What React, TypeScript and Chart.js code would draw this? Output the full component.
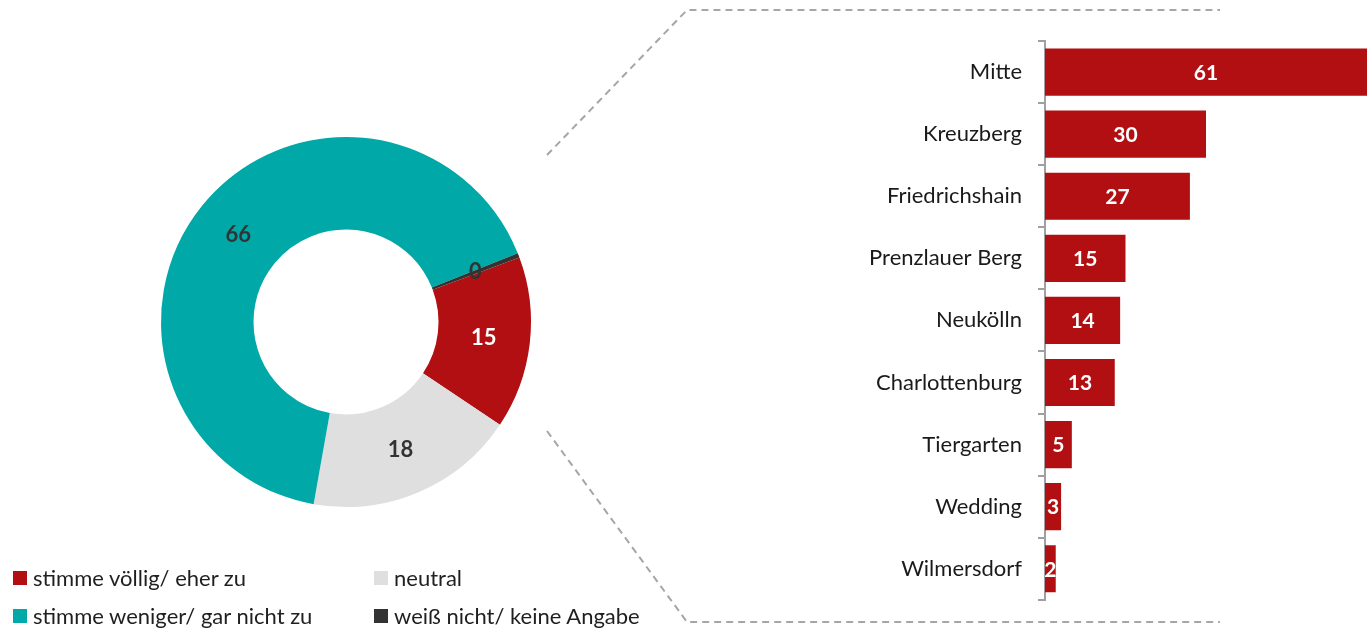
import React, { useEffect, useRef } from "react";
import { Chart, registerables } from "chart.js";

Chart.register(...registerables);

const answerLabels = [
  "stimme völlig/ eher zu",
  "neutral",
  "stimme weniger/ gar nicht zu",
  "weiß nicht/ keine Angabe",
];
const answerValues = [15, 18.4, 66, 0.4];
const answerDisplay = ["15", "18", "66", "0"];
const answerColors = ["#B20F12", "#DEDFDE", "#00A8A8", "#333333"];
const answerLabelColors = ["#FFFFFF", "#333333", "#333333", "#333333"];

const districts = [
  "Mitte",
  "Kreuzberg",
  "Friedrichshain",
  "Prenzlauer Berg",
  "Neukölln",
  "Charlottenburg",
  "Tiergarten",
  "Wedding",
  "Wilmersdorf",
];
const districtValues = [61, 30, 27, 15, 14, 13, 5, 3, 2];
const barColor = "#B20F12";

const FONT = "Lato, 'Open Sans', sans-serif";
const W = 1367;
const H = 629;

const doughnutLabels = {
  id: "doughnutLabels",
  afterDatasetsDraw(chart: any) {
    const ctx = chart.ctx;
    const meta = chart.getDatasetMeta(0);
    ctx.save();
    ctx.font = `bold 22px ${FONT}`;
    ctx.textAlign = "center";
    ctx.textBaseline = "middle";
    meta.data.forEach((arc: any, i: number) => {
      const p = arc.tooltipPosition();
      ctx.fillStyle = answerLabelColors[i];
      ctx.fillText(answerDisplay[i], p.x, p.y);
    });
    ctx.restore();
  },
};

const barLabels = {
  id: "barLabels",
  afterDatasetsDraw(chart: any) {
    const ctx = chart.ctx;
    const meta = chart.getDatasetMeta(0);
    const area = chart.chartArea;
    ctx.save();
    ctx.font = `bold 21px ${FONT}`;
    ctx.textAlign = "center";
    ctx.textBaseline = "middle";
    ctx.fillStyle = "#FFFFFF";
    meta.data.forEach((bar: any, i: number) => {
      const right = Math.min(bar.x, area.right);
      const cx = (bar.base + right) / 2;
      ctx.fillText(String(districtValues[i]), cx, bar.y + 1);
    });
    ctx.restore();
  },
  afterDraw(chart: any) {
    const ctx = chart.ctx;
    ctx.save();
    ctx.strokeStyle = "#A6A6A6";
    ctx.lineWidth = 2;
    ctx.setLineDash([7, 5]);
    ctx.beginPath();
    ctx.moveTo(547, 155);
    ctx.lineTo(687, 10);
    ctx.lineTo(1220, 10);
    ctx.moveTo(547, 431);
    ctx.lineTo(687, 622);
    ctx.lineTo(1220, 622);
    ctx.stroke();
    ctx.restore();
  },
};

export default function App() {
  const doughnutRef = useRef<HTMLCanvasElement | null>(null);
  const barRef = useRef<HTMLCanvasElement | null>(null);

  useEffect(() => {
    const d = new Chart(doughnutRef.current as HTMLCanvasElement, {
      type: "doughnut",
      data: {
        labels: answerLabels,
        datasets: [
          {
            data: answerValues,
            backgroundColor: answerColors,
            borderWidth: 0,
          },
        ],
      },
      options: {
        responsive: false,
        animation: false,
        cutout: "50%",
        rotation: 69.6,
        layout: { padding: { left: 161, top: 137, right: W - 531, bottom: H - 507 } },
        plugins: { legend: { display: false }, tooltip: { enabled: false } },
      },
      plugins: [doughnutLabels],
    });

    const b = new Chart(barRef.current as HTMLCanvasElement, {
      type: "bar",
      data: {
        labels: districts,
        datasets: [
          {
            data: districtValues,
            backgroundColor: barColor,
            borderWidth: 0,
            categoryPercentage: 0.76,
            barPercentage: 1,
          },
        ],
      },
      options: {
        indexAxis: "y",
        responsive: false,
        animation: false,
        layout: { padding: { left: 700, top: 41, bottom: H - 600, right: 0 } },
        plugins: { legend: { display: false }, tooltip: { enabled: false } },
        scales: {
          x: { display: false, min: 0, max: 60 },
          y: {
            afterFit(scale: any) {
              scale.width = 345;
            },
            border: { display: true, color: "#A0A0A0", width: 2 },
            grid: {
              drawOnChartArea: false,
              drawTicks: true,
              tickLength: 7,
              color: "#A0A0A0",
              lineWidth: 2,
              offset: true,
            },
            ticks: {
              color: "#1A1A1A",
              font: { family: FONT, size: 22 },
              padding: 16,
            },
          },
        },
      },
      plugins: [barLabels],
    });

    return () => {
      d.destroy();
      b.destroy();
    };
  }, []);

  const legendItem = (i: number, left: number, top: number) => (
    <div
      key={i}
      style={{
        position: "absolute",
        left,
        top,
        display: "flex",
        alignItems: "center",
        fontFamily: FONT,
        fontSize: 22,
        color: "#1F1F1F",
        whiteSpace: "nowrap",
        lineHeight: "26px",
      }}
    >
      <span
        style={{
          display: "inline-block",
          width: 14,
          height: 14,
          background: answerColors[i],
          marginRight: 6,
        }}
      />
      {answerLabels[i]}
    </div>
  );

  return (
    <div style={{ position: "absolute", left: 0, top: 0, width: W, height: H, background: "#FFFFFF", overflow: "hidden" }}>
      <canvas
        ref={doughnutRef}
        width={W}
        height={H}
        style={{ position: "absolute", left: 0, top: 0, width: W, height: H }}
      />
      <canvas
        ref={barRef}
        width={W}
        height={H}
        style={{ position: "absolute", left: 0, top: 0, width: W, height: H }}
      />
      {legendItem(0, 13, 565)}
      {legendItem(1, 374, 565)}
      {legendItem(2, 13, 603)}
      {legendItem(3, 374, 603)}
    </div>
  );
}
